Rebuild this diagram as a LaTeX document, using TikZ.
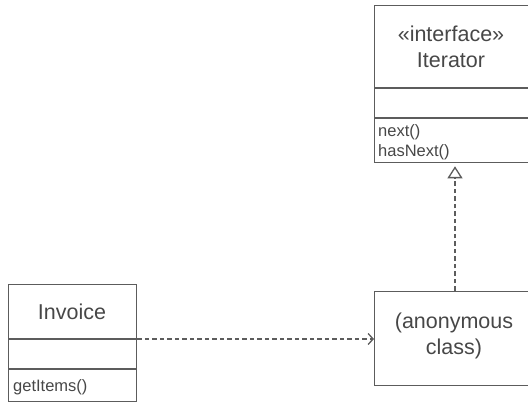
\documentclass[tikz,border=0pt]{standalone}
\usepackage{fontspec}
\setmainfont{Liberation Sans}
\usetikzlibrary{arrows.meta,positioning}
\definecolor{umlline}{HTML}{5C5C5C}
\definecolor{umltext}{HTML}{474747}

\begin{document}
\begin{tikzpicture}[
  x=1pt, y=1pt,
  classbox/.style={rectangle, draw=umlline, line width=1.3pt, inner sep=0pt, anchor=north west},
  classname/.style={text=umltext, font=\fontsize{21.5}{26.5}\selectfont, align=center, inner sep=0pt},
  member/.style={text=umltext, font=\fontsize{16.5}{20}\selectfont, align=left, anchor=west, inner sep=0pt},
  sepline/.style={draw=umlline, line width=1.3pt},
  depend/.style={draw=umlline, line width=1.3pt, dash pattern=on 4.5pt off 3pt, -{Straight Barb[length=5pt, width=11pt]}},
  realize/.style={draw=umlline, line width=1.3pt, dash pattern=on 4.5pt off 3pt, -{Triangle[open, length=12pt, width=15pt]}}
]
\useasboundingbox (0,0) rectangle (528,402);
\clip (0,0) rectangle (528,402);

% Iterator interface
\node[classbox, minimum width=170pt, minimum height=157pt] (iterator) at (374,397) {};
\draw[sepline] ([yshift=-83pt]iterator.north west) -- ([yshift=-83pt]iterator.north east);
\draw[sepline] ([yshift=-113pt]iterator.north west) -- ([yshift=-113pt]iterator.north east);
\node[classname] (itername) at (451,355) {«interface»\\Iterator};
\node[member] (itermembers) at (378,260) {next()\\hasNext()};

% Invoice class
\node[classbox, minimum width=128pt, minimum height=117pt] (invoice) at (8,118) {};
\draw[sepline] ([yshift=-55pt]invoice.north west) -- ([yshift=-55pt]invoice.north east);
\draw[sepline] ([yshift=-85pt]invoice.north west) -- ([yshift=-85pt]invoice.north east);
\node[classname] (invname) at (72,90) {Invoice};
\node[member] (invmembers) at (13,15) {getItems()};

% anonymous class
\node[classbox, minimum width=170pt, minimum height=94pt] (anon) at (374,111) {};
\node[classname] (anonname) at (454,66) {(anonymous\\class)};

% connectors
\coordinate (invsep) at ([yshift=-55pt]invoice.north east);
\coordinate (anontop) at (455,111);
\draw[depend] (invsep) -- (invsep -| anon.west);
\draw[realize] (anontop) -- ([yshift=-3pt]anontop |- iterator.south);
\end{tikzpicture}
\end{document}
